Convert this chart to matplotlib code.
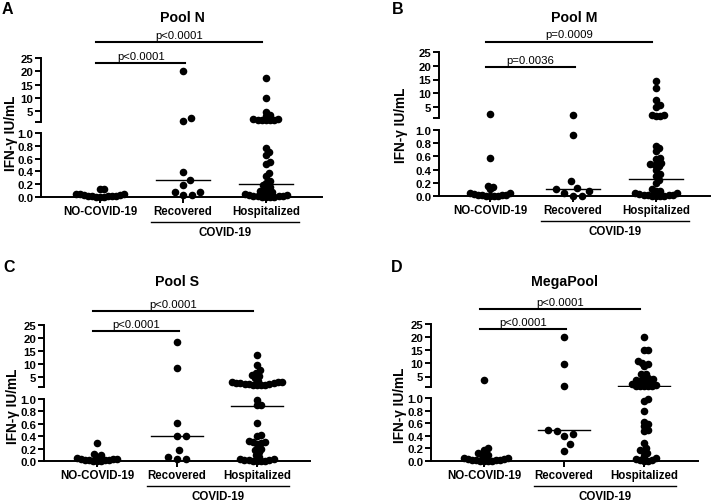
import matplotlib
matplotlib.use("Agg")
import matplotlib.pyplot as plt
import matplotlib.transforms as mtrans
import numpy as np

plt.rcParams['font.family'] = ['Liberation Sans', 'DejaVu Sans']

groups = ['NO-COVID-19', 'Recovered', 'Hospitalized']
titles = ['Pool N', 'Pool M', 'Pool S', 'MegaPool']
letters = ['A', 'B', 'C', 'D']

# IFN-g IU/mL (values > 1 sit on the upper segment)
poolN_no = [0.13, 0.12, 0.05, 0.04, 0.04, 0.03, 0.03, 0.02, 0.02, 0.02, 0.01, 0.01, 0.0, 0.0, 0.0]
poolN_rec = [20.0, 2.6, 1.3, 0.39, 0.27, 0.18, 0.08, 0.08, 0.03, 0.03]
poolN_hosp = [17.5, 10.0, 4.9, 3.6, 3.2, 2.2, 2.0, 1.8, 1.7, 1.9, 1.6, 1.7,
              0.77, 0.70, 0.65, 0.54, 0.52, 0.37, 0.33, 0.25, 0.22, 0.18, 0.16, 0.14,
              0.10, 0.08, 0.07, 0.06, 0.04, 0.03, 0.03, 0.02, 0.02, 0.01, 0.01, 0.0, 0.0, 0.0, 0.0]

poolM_no = [2.5, 0.58, 0.15, 0.14, 0.10, 0.05, 0.04, 0.03, 0.02, 0.02, 0.01, 0.01, 0.0, 0.0, 0.0, 0.0]
poolM_rec = [2.2, 0.93, 0.22, 0.12, 0.10, 0.08, 0.04, 0.0, 0.0]
poolM_hosp = [14.6, 12.0, 7.6, 5.8, 5.0, 2.2, 2.0, 1.8, 1.7,
              0.76, 0.72, 0.68, 0.57, 0.56, 0.50, 0.48, 0.47, 0.45, 0.40, 0.33, 0.30, 0.24, 0.20,
              0.10, 0.08, 0.07, 0.05, 0.04, 0.03, 0.02, 0.02, 0.01, 0.01, 0.0, 0.0, 0.0, 0.0]

poolS_no = [0.29, 0.12, 0.10, 0.07, 0.05, 0.04, 0.03, 0.03, 0.02, 0.02, 0.01, 0.01, 0.0, 0.0, 0.0]
poolS_rec = [18.5, 8.5, 0.62, 0.41, 0.40, 0.17, 0.07, 0.03, 0.03]
poolS_hosp = [13.2, 9.5, 7.4, 6.5, 5.5, 5.3, 4.5, 3.2, 3.0, 2.8, 2.6, 2.4, 2.3, 2.2, 2.0, 1.9,
              1.8, 1.7, 1.6, 2.5, 2.9,
              0.98, 0.91, 0.90, 0.61, 0.42, 0.40, 0.33, 0.31, 0.30, 0.29, 0.28, 0.20, 0.17,
              0.14, 0.10, 0.06, 0.04, 0.03, 0.02, 0.02, 0.01, 0.0, 0.0, 0.0, 0.0]

mega_no = [3.6, 0.21, 0.18, 0.12, 0.10, 0.10, 0.06, 0.05, 0.04, 0.03, 0.03, 0.02, 0.02,
           0.01, 0.01, 0.0, 0.0, 0.0, 0.0]
mega_rec = [20.0, 9.8, 1.4, 0.50, 0.48, 0.43, 0.40, 0.27, 0.16]
mega_hosp = [19.9, 15.2, 15.0, 10.9, 10.3, 9.7, 9.0, 6.0, 5.8, 4.6, 4.6, 4.0, 3.5, 3.3, 2.9,
             2.9, 2.2, 1.8, 1.5, 1.4, 1.4, 1.3, 1.4,
             0.98, 0.95, 0.80, 0.62, 0.58, 0.55, 0.50, 0.47, 0.29, 0.20, 0.17, 0.15, 0.12,
             0.08, 0.04, 0.03, 0.02, 0.01, 0.0, 0.0]

medians = [[None, 0.27, 0.20], [None, 0.10, 0.26], [None, 0.40, 0.89], [None, 0.49, 1.35]]
p_short = ['p<0.0001', 'p=0.0036', 'p<0.0001', 'p<0.0001']
p_long = ['p<0.0001', 'p=0.0009', 'p<0.0001', 'p<0.0001']

data = [[poolN_no, poolN_rec, poolN_hosp],
        [poolM_no, poolM_rec, poolM_hosp],
        [poolS_no, poolS_rec, poolS_hosp],
        [mega_no, mega_rec, mega_hosp]]

W, H = 716, 502
fig = plt.figure(figsize=(W / 100, H / 100), dpi=100)

# pixel layout: left, right, upper top, upper bottom, lower top, lower bottom, first category x, spacing
layout = [(41, 322, 59, 123, 134, 198, 100, 83),
          (439, 710, 53, 119, 131, 197, 490, 83),
          (44, 310, 326, 388, 400, 462, 97, 80),
          (431, 698, 325, 388, 399, 462, 484, 80)]
# sig bar heights (upper axis units), letter/title/ylabel positions in px
bar_y = [(23.1, 31.0), (19.6, 28.8), (22.7, 30.4), (23.1, 30.7)]
letter_xy = [(2, 10), (392, 10), (3, 268), (391, 268)]
title_xy = [(182, 18), (574, 18), (177, 282), (565, 282)]
ylab_xy = [(11, 133), (401, 125), (13, 406), (400, 405)]
# dot spacing (px) used to spread each group sideways
spread = [4.0, 9.0, 4.2]


def rect(l, r, t, b):
    return [l / W, 1 - b / H, (r - l) / W, (b - t) / H]


def swarm(ys, d):
    placed = []
    out = np.zeros(len(ys))
    for i in np.argsort(ys):
        y = ys[i]
        cands = [0.0]
        for px, py in placed:
            dy = abs(py - y)
            if dy < d:
                dx = np.sqrt(d * d - dy * dy)
                cands += [px + dx, px - dx]
        cands.sort(key=abs)
        for c in cands:
            if all((c - px) ** 2 + (y - py) ** 2 >= d * d - 1e-6 for px, py in placed):
                break
        placed.append((c, y))
        out[i] = c
    return out


for k in range(4):
    l, r, ut, ub, lt, lb, c0, sp = layout[k]
    xl = ((l - c0) / sp, (r - c0) / sp)
    axl = fig.add_axes(rect(l, r, lt, lb))
    axu = fig.add_axes(rect(l, r, ut, ub))
    for ax in (axl, axu):
        ax.set_xlim(*xl)
        ax.patch.set_alpha(0)
        ax.spines['top'].set_visible(False)
        ax.spines['right'].set_visible(False)
        ax.spines['left'].set_linewidth(1.4)
        ax.tick_params(axis='y', length=4, width=1.4, pad=1.5, labelsize=8.2)
    axu.spines['bottom'].set_visible(False)
    axl.spines['bottom'].set_linewidth(1.4)
    axl.set_ylim(0, 1)
    axu.set_ylim(1, 25)
    axl.set_yticks(np.arange(0, 1.01, 0.2))
    axl.set_yticklabels(['0.0', '0.2', '0.4', '0.6', '0.8', '1.0'], fontweight='bold')
    axu.set_yticks([1, 5, 10, 15, 20, 25])
    axu.set_yticklabels(['', '5', '10', '15', '20', '25'], fontweight='bold')
    axu.set_xticks([])
    axl.set_xticks([0, 1, 2])
    axl.set_xticklabels(groups, fontweight='bold', fontsize=8.3)
    axl.tick_params(axis='x', length=4, width=1.4, pad=2)

    for g in range(3):
        vals = np.array(data[k][g], dtype=float)
        ypx = np.where(vals <= 1, vals * (lb - lt), (lb - lt) + (lt - ub) + (vals - 1) / 24 * (ub - ut))
        off = swarm(ypx, spread[g]) / sp
        lo = vals <= 1
        axl.scatter(g + off[lo], vals[lo], s=30, color='black', clip_on=False, zorder=3, linewidths=0)
        axu.scatter(g + off[~lo], vals[~lo], s=30, color='black', clip_on=False, zorder=3, linewidths=0)
        m = medians[k][g]
        if m is not None:
            ax = axl if m <= 1 else axu
            ax.plot([g - 0.33, g + 0.33], [m, m], color='black', lw=1.0, zorder=2)

    # significance bars
    y1, y2 = bar_y[k]
    axu.plot([-0.05, 1.03], [y1, y1], color='black', lw=1.5, clip_on=False)
    axu.plot([-0.05, 1.95], [y2, y2], color='black', lw=1.5, clip_on=False)
    axu.annotate(p_short[k], ((-0.05 + 1.03) / 2, y1), xytext=(0, 1.5), textcoords='offset points',
                 ha='center', va='bottom', fontsize=8.2, annotation_clip=False)
    axu.annotate(p_long[k], ((-0.05 + 1.95) / 2, y2), xytext=(0, 1.5), textcoords='offset points',
                 ha='center', va='bottom', fontsize=8.2, annotation_clip=False)

    # COVID-19 group bracket
    hpx = lb - lt
    tr = mtrans.blended_transform_factory(axl.transData, axl.transAxes)
    axl.plot([0.62, 2.4], [-25 / hpx, -25 / hpx], color='black', lw=1.0, transform=tr, clip_on=False)
    axl.text(1.51, -35 / hpx, 'COVID-19', transform=tr, ha='center', va='center',
             fontsize=8.3, fontweight='bold')

    fig.text(letter_xy[k][0] / W, 1 - letter_xy[k][1] / H, letters[k], fontsize=11.5,
             fontweight='bold', ha='left', va='center')
    fig.text(title_xy[k][0] / W, 1 - title_xy[k][1] / H, titles[k], fontsize=10.2,
             fontweight='bold', ha='center', va='center')
    fig.text(ylab_xy[k][0] / W, 1 - ylab_xy[k][1] / H, 'IFN-γ IU/mL', fontsize=9.8,
             fontweight='bold', ha='center', va='center', rotation=90)

fig.savefig('out.png', dpi=100)
